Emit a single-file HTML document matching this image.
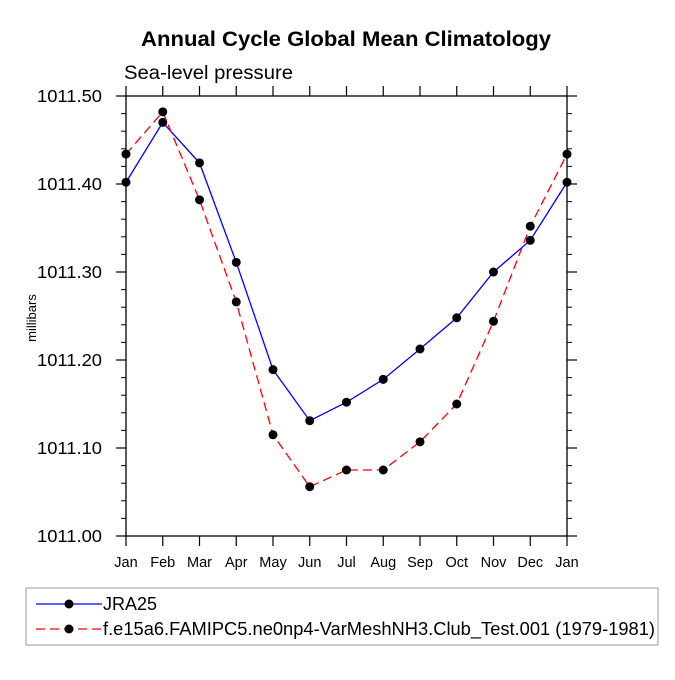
<!DOCTYPE html>
<html><head><meta charset="utf-8"><style>
body{margin:0;background:#fff;}
svg text{font-family:"Liberation Sans",sans-serif;}
</style></head><body>
<svg id="chart" width="675" height="675" xmlns="http://www.w3.org/2000/svg">
<text x="346" y="46" text-anchor="middle" font-size="21" font-weight="bold" textLength="410" lengthAdjust="spacingAndGlyphs">Annual Cycle Global Mean Climatology</text>
<text x="124" y="79" font-size="19" textLength="169" lengthAdjust="spacingAndGlyphs">Sea-level pressure</text>
<text x="36" y="318" font-size="13" text-anchor="middle" transform="rotate(-90 36 318)">millibars</text>
<g id="axes"></g>
<g id="series"></g>
<rect x="26" y="588" width="632" height="57" fill="none" stroke="#999" stroke-width="1"/>
<g id="legend"></g>
</svg>
<script>
const months=["Jan","Feb","Mar","Apr","May","Jun","Jul","Aug","Sep","Oct","Nov","Dec","Jan"];
const jra25=[1011.402,1011.470,1011.424,1011.311,1011.189,1011.131,1011.152,1011.178,1011.2125,1011.248,1011.300,1011.336,1011.402];
const model=[1011.434,1011.482,1011.382,1011.266,1011.115,1011.056,1011.075,1011.075,1011.107,1011.150,1011.244,1011.352,1011.434];
const yTicks=[1011.00,1011.10,1011.20,1011.30,1011.40,1011.50];
const yTickLabels=["1011.00","1011.10","1011.20","1011.30","1011.40","1011.50"];
const seriesNames=["JRA25","f.e15a6.FAMIPC5.ne0np4-VarMeshNH3.Club_Test.001 (1979-1981)"];
const L=126,R=567,T=96,B=536,ymin=1011.0,ymax=1011.5;
const xs=i=>L+(R-L)*i/(months.length-1);
const ys=v=>B-(v-ymin)/(ymax-ymin)*(B-T);
const NS="http://www.w3.org/2000/svg";
function mk(tag,attrs,parent){const e=document.createElementNS(NS,tag);for(const k in attrs)e.setAttribute(k,attrs[k]);parent.appendChild(e);return e;}
const ax=document.getElementById('axes');
const frame=mk('rect',{x:L,y:T,width:R-L,height:B-T,fill:'none',stroke:'#000','stroke-width':1.3},ax);


months.forEach((m,i)=>{const x=xs(i);
 mk('line',{x1:x,x2:x,y1:B,y2:B+10,stroke:'#000','stroke-width':1.2},ax);
 mk('line',{x1:x,x2:x,y1:T,y2:T-10,stroke:'#000','stroke-width':1.2},ax);
 const t=mk('text',{x:x,y:B+31,'text-anchor':'middle','font-size':14.5},ax);t.textContent=m;
 
 
});
yTicks.forEach((v,i)=>{const y=ys(v);
 mk('line',{x1:L-10,x2:L,y1:y,y2:y,stroke:'#000','stroke-width':1.2},ax);
 mk('line',{x1:R,x2:R+10,y1:y,y2:y,stroke:'#000','stroke-width':1.2},ax);
 const t=mk('text',{x:L-24,y:y+6,'text-anchor':'end','font-size':17.5,textLength:65,lengthAdjust:'spacingAndGlyphs'},ax);t.textContent=yTickLabels[i];
 
 
 if(i<yTicks.length-1){for(let k=1;k<5;k++){const yy=ys(v+0.02*k);
  mk('line',{x1:L-5,x2:L,y1:yy,y2:yy,stroke:'#000','stroke-width':1},ax);
  mk('line',{x1:R,x2:R+5,y1:yy,y2:yy,stroke:'#000','stroke-width':1},ax);}}
});
const sg=document.getElementById('series');
function drawSeries(vals,color,dash,name){
 const g=mk('g',{},sg);
 
 
 mk('polyline',{points:vals.map((v,i)=>xs(i)+','+ys(v)).join(' '),fill:'none',stroke:color,'stroke-width':1.3,'stroke-dasharray':dash},g);
 vals.forEach((v,i)=>{const c=mk('circle',{cx:xs(i),cy:ys(v),r:4.5,fill:'#000'},g);
  
  });
}
drawSeries(jra25,'#0000ff','none','jra25-series');
drawSeries(model,'#ff0000','9,5','model-series');
const lg=document.getElementById('legend');
[[0,'#0000ff','none',54],[1,'#ff0000','9,5',552]].forEach(([i,c,d,w])=>{
 const y=604+i*25;
 const g=mk('g',{},lg);
 
 
 mk('line',{x1:36,x2:102,y1:y,y2:y,stroke:c,'stroke-width':1.3,'stroke-dasharray':d},g);
 mk('circle',{cx:69,cy:y,r:4.5,fill:'#000'},g);
 const t=mk('text',{x:103,y:y+6,'font-size':18,textLength:w,lengthAdjust:'spacingAndGlyphs'},g);t.textContent=seriesNames[i];
});
</script>
</body></html>
